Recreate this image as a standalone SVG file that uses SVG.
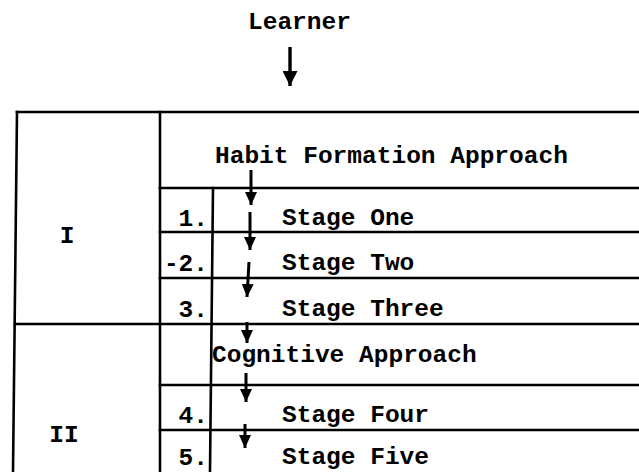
<svg xmlns="http://www.w3.org/2000/svg" width="639" height="472" viewBox="0 0 639 472">
<style>
text{font-family:"Liberation Mono","DejaVu Sans Mono",monospace;font-weight:bold;font-size:24.5px;fill:#000}
.ln{stroke:#000;stroke-width:2.6;fill:none;stroke-linecap:square}
.ar{stroke:#000;stroke-width:3;fill:none;marker-end:url(#ah)}
.arL{stroke:#000;stroke-width:3.4;fill:none;marker-end:url(#ahL)}
</style>
<defs>
<marker id="ah" markerUnits="userSpaceOnUse" markerWidth="13" markerHeight="12" viewBox="0 0 13 12" refX="13" refY="6" orient="auto">
<path d="M0,0 L13,6 L0,12 Z" fill="#000"/>
</marker>
<marker id="ahL" markerUnits="userSpaceOnUse" markerWidth="15" markerHeight="15" viewBox="0 0 15 15" refX="15" refY="7.5" orient="auto">
<path d="M0,0 L15,7.5 L0,15 Z" fill="#000"/>
</marker>
</defs>
<rect width="639" height="472" fill="#fff"/>
<g id="grid">
<path class="ln" d="M17,112 L639,112"/>
<path class="ln" d="M17,112 L13,472"/>
<path class="ln" d="M160,112 L160,472"/>
<path class="ln" d="M213,188 L210,472"/>
<path class="ln" d="M160,188 L639,188"/>
<path class="ln" d="M160,232 L639,232"/>
<path class="ln" d="M160,278 L639,278"/>
<path class="ln" d="M15,324 L639,324"/>
<path class="ln" d="M160,385 L639,385"/>
<path class="ln" d="M160,430 L639,430"/>
</g>
<g id="learner"><text x="248" y="29">Learner</text></g>
<g id="phase-1"><text x="67" y="243" text-anchor="middle">I</text></g>
<g id="phase-2"><text x="64" y="442" text-anchor="middle">II</text></g>
<g id="habit"><text x="215" y="163">Habit Formation Approach</text></g>
<g id="stage-1"><text x="208" y="226" text-anchor="end">1.</text><text x="282" y="225">Stage One</text></g>
<g id="stage-2"><text x="208" y="271" text-anchor="end">-2.</text><text x="282" y="270">Stage Two</text></g>
<g id="stage-3"><text x="208" y="317" text-anchor="end">3.</text><text x="282" y="316">Stage Three</text></g>
<g id="cognitive"><text x="212" y="362">Cognitive Approach</text></g>
<g id="stage-4"><text x="208" y="423" text-anchor="end">4.</text><text x="282" y="422">Stage Four</text></g>
<g id="stage-5"><text x="208" y="465" text-anchor="end">5.</text><text x="282" y="464">Stage Five</text></g>
<g id="connectors">
<path class="arL" d="M290,47 L290,86"/>
<path class="ar" d="M251,170 L251,205"/>
<path class="ar" d="M250,212 L250,250"/>
<path class="ar" d="M249,262 L247,297"/>
<path class="ar" d="M247,322 L247,343"/>
<path class="ar" d="M246,373 L246,402"/>
<path class="ar" d="M245,424 L245,448"/>
</g>
</svg>
